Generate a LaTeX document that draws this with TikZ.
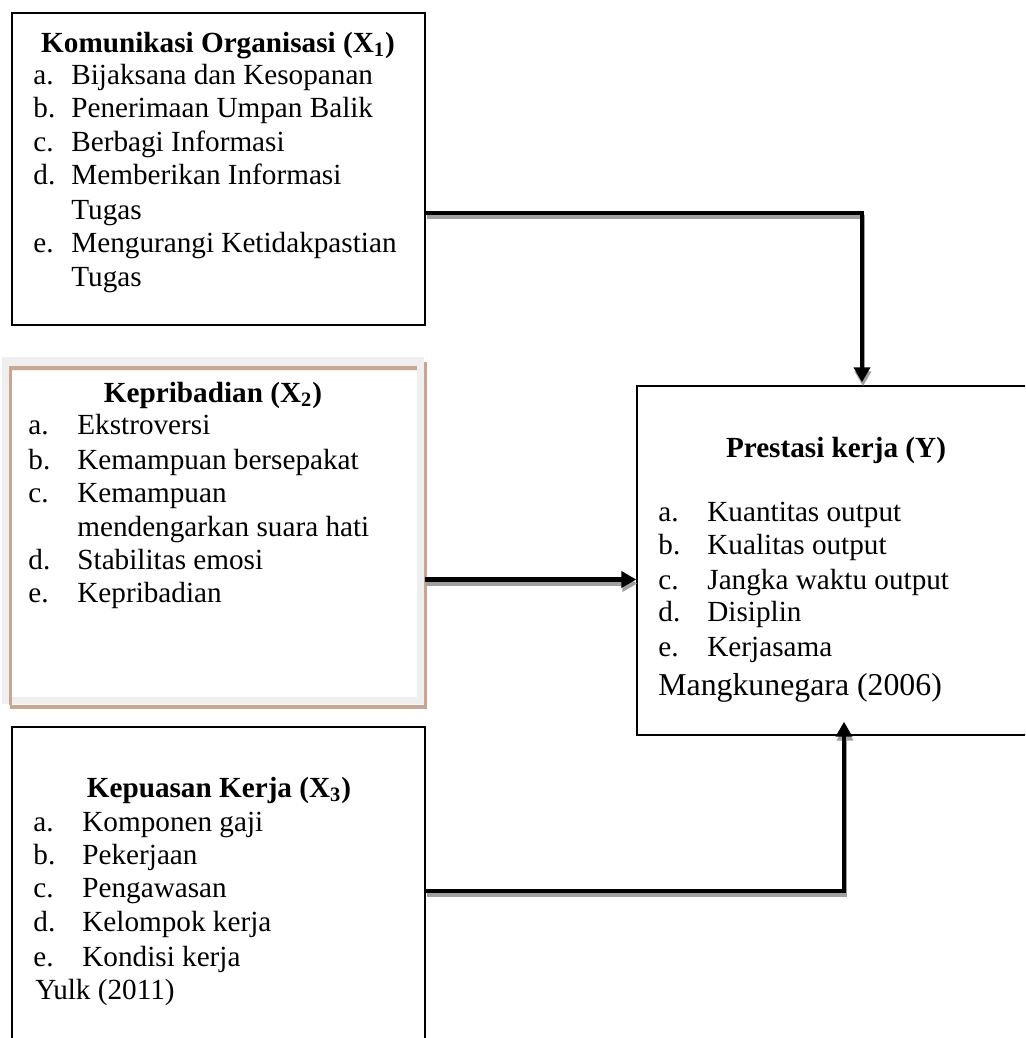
\documentclass[tikz,border=0pt]{standalone}
\usepackage{fontspec}
\setmainfont{Liberation Serif}
\usetikzlibrary{arrows.meta,calc}
\definecolor{tanbrown}{RGB}{200,166,146}
\definecolor{framegray}{RGB}{239,239,239}
\definecolor{shadowgray}{RGB}{160,160,160}
\tikzset{
  boxst/.style={draw=black, line width=0.7pt, fill=white, inner sep=0pt, rectangle},
  anch/.style={inner sep=0pt, rectangle},
  txt/.style={anchor=base west, inner sep=0pt, font=\fontsize{14.6}{17}\selectfont},
  ttl/.style={anchor=base, inner sep=0pt, font=\fontsize{14.6}{17}\selectfont\bfseries},
  conn/.style={line width=2.2pt, draw=black, -{Triangle[length=7.5pt,width=8pt]}},
  connshadow/.style={conn, draw=shadowgray, transform canvas={shift={(0.5pt,-2pt)}}},
}
\begin{document}
\begin{tikzpicture}[x=0.5pt,y=-0.5pt]
\useasboundingbox (0,0) rectangle (1025,1038);
\fill[white] (0,0) rectangle (1025,1038);
\clip (0,0) rectangle (1025,1038);

% ---------- Box X1 ----------
\node[boxst, minimum width=206.5pt, minimum height=156pt] (x1) at (218.5,169) {};
\node[ttl] (x1title) at (218,52.5) {Komunikasi Organisasi (X\textsubscript{1})};
\foreach \yy/\lab/\txt [count=\i] in {
  75/a./Bijaksana dan Kesopanan,
  108/b./Penerimaan Umpan Balik,
  142/c./Berbagi Informasi,
  175/d./Memberikan Informasi,
  210/{}/Tugas,
  243/e./Mengurangi Ketidakpastian,
  277/{}/Tugas}{
  \node[txt] (x1l\i) at (33,\yy+9.5) {\lab};
  \node[txt] (x1t\i) at (71,\yy+9.5) {\txt};
}

% ---------- Box X2 ----------
\fill[framegray] (2,357) rectangle (424,704);
\fill[white] (12,371) rectangle (417,697);
\draw[tanbrown, line width=2pt] (10,368) -- (417,368);
\draw[tanbrown, line width=1.5pt] (10.5,366) -- (10.5,705);
\draw[tanbrown, line width=1.5pt] (425.5,362) -- (425.5,709);
\draw[tanbrown, line width=2pt] (10,707) -- (427,707);
\node[anch, minimum width=207.5pt, minimum height=170pt] (x2) at (217.5,537) {};
\node[ttl] (x2title) at (213,402.5) {Kepribadian (X\textsubscript{2})};
\foreach \yy/\lab/\txt [count=\i] in {
  425/a./Ekstroversi,
  460/b./Kemampuan bersepakat,
  493/c./Kemampuan,
  527/{}/mendengarkan suara hati,
  560/d./Stabilitas emosi,
  593/e./Kepribadian}{
  \node[txt] (x2l\i) at (28,\yy+9.5) {\lab};
  \node[txt] (x2t\i) at (77,\yy+9.5) {\txt};
}

% ---------- Box X3 ----------
\node[boxst, minimum width=206.5pt, minimum height=166.5pt] (x3) at (218.5,893.5) {};
\node[ttl] (x3title) at (219,797.5) {Kepuasan Kerja (X\textsubscript{3})};
\foreach \yy/\lab/\txt [count=\i] in {
  822/a./Komponen gaji,
  855/b./Pekerjaan,
  888/c./Pengawasan,
  922/d./Kelompok kerja,
  957/e./Kondisi kerja}{
  \node[txt] (x3l\i) at (33,\yy+9.5) {\lab};
  \node[txt] (x3t\i) at (82,\yy+9.5) {\txt};
}
\node[txt] (x3src) at (35,999.5) {Yulk (2011)};

% ---------- Box Y ----------
\node[boxst, minimum width=201.5pt, minimum height=174.5pt] (y) at (838.5,560.5) {};
\node[ttl] (ytitle) at (836,457.5) {Prestasi kerja (Y)};
\foreach \yy/\lab/\txt [count=\i] in {
  512/a./Kuantitas output,
  545/b./Kualitas output,
  580/c./Jangka waktu output,
  612/d./Disiplin,
  647/e./Kerjasama}{
  \node[txt] (yl\i) at (658,\yy+9.5) {\lab};
  \node[txt] (yt\i) at (707,\yy+9.5) {\txt};
}
\node[txt, font=\fontsize{15.9}{18}\selectfont] (ysrc) at (658,695) {Mangkunegara (2006)};

% ---------- Connectors ----------
\coordinate (a1) at (862,213);
\coordinate (a2) at (640,579.5);
\coordinate (a3) at (844,891);

\draw[connshadow, shorten >=1.5pt] (x1.east |- a1) -| (y.north -| a1);
\draw[conn, shorten >=1.5pt] (x1.east |- a1) -| (y.north -| a1);

\draw[connshadow] (x2.east |- a2) -- (y.west |- a2);
\draw[conn] (x2.east |- a2) -- (y.west |- a2);

\draw[connshadow] (x3.east |- a3) -| ([yshift=7pt]y.south -| a3);
\draw[conn] (x3.east |- a3) -| ([yshift=7pt]y.south -| a3);
\end{tikzpicture}
\end{document}
